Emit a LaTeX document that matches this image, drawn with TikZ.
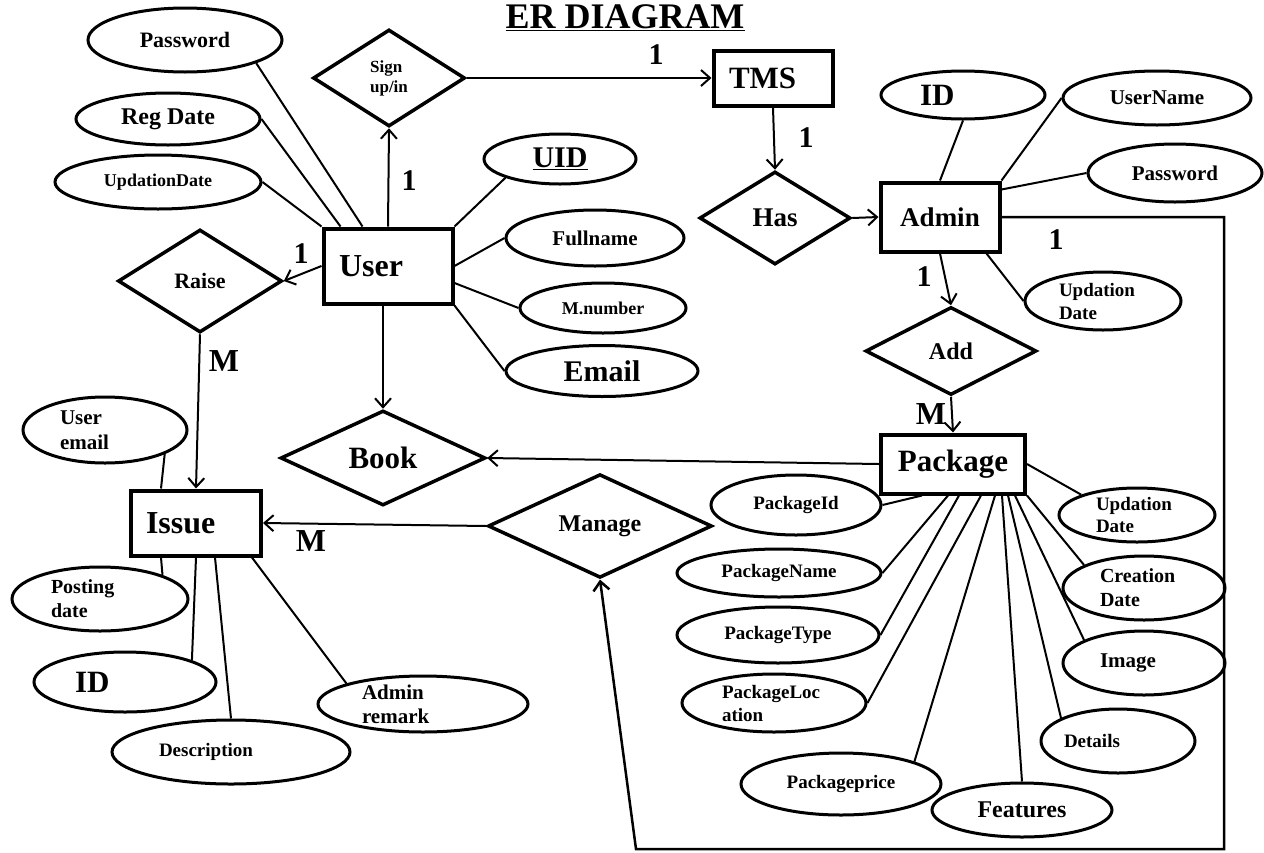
\documentclass[tikz,border=0pt]{standalone}
\usepackage{fontspec}
\setmainfont{Liberation Serif}
\usepackage{tikz}
\usetikzlibrary{shapes.geometric,arrows.meta}
\newcommand{\sz}[2]{\bfseries\fontsize{#1}{#2}\selectfont}
\tikzset{
ent/.style={draw,line width=4pt,inner sep=0pt},
rel/.style={diamond,draw,line width=3.5pt,inner sep=0pt},
attr/.style={ellipse,draw,line width=3pt,inner sep=0pt},
card/.style={font=\sz{30}{32}},
ln/.style={line width=2pt},
arr/.style={line width=2pt,-{Straight Barb[length=9pt,width=16pt]}}
}

\begin{document}
\begin{tikzpicture}[x=1pt,y=-1pt]
\useasboundingbox (0,0) rectangle (1264,852);
\node[font=\sz{36}{40},anchor=base] (title) at (625,28) {\underline{ER DIAGRAM}};

\node[ent,minimum width=129,minimum height=75,text width=98,align=left,font=\sz{32}{34}] (user) at (388,266) {User};
\node[ent,minimum width=119,minimum height=55,text width=88,align=left,font=\sz{31}{33}] (tms) at (773,78) {TMS};
\node[ent,minimum width=119,minimum height=69,font=\sz{27}{29}] (admin) at (940,217) {Admin};
\node[ent,minimum width=144,minimum height=59,font=\sz{31}{33}] (pkg) at (953,464) {Package};
\node[ent,minimum width=130,minimum height=65,text width=100,align=left,font=\sz{32}{34}] (issue) at (196,523) {Issue};

\node[rel,minimum width=152,minimum height=97,align=left,font=\sz{17}{20}] (sign) at (389,78) {Sign\\up/in};
\node[rel,minimum width=164,minimum height=103,font=\sz{22}{24}] (raise) at (200,281) {Raise};
\node[rel,minimum width=151,minimum height=93,font=\sz{27}{29}] (has) at (775,218) {Has};
\node[rel,minimum width=171,minimum height=88,font=\sz{24}{26}] (add) at (951,351) {Add};
\node[rel,minimum width=205,minimum height=95,font=\sz{31}{33}] (book) at (383,458) {Book};
\node[rel,minimum width=224,minimum height=95,font=\sz{24}{26}] (manage) at (600,526) {Manage};

\node[attr,minimum width=194,minimum height=64,font=\sz{22}{24}] (upw) at (185,40) {Password};
\node[attr,minimum width=184,minimum height=52,font=\sz{24}{26}] (ureg) at (168,119) {Reg Date};
\node[attr,minimum width=206,minimum height=54,font=\sz{18}{20}] (uupd) at (158,182) {UpdationDate};
\node[attr,minimum width=152,minimum height=50,font=\sz{30}{32}] (uid) at (560,159) {\underline{UID}};
\node[attr,minimum width=178,minimum height=56,font=\sz{21}{23}] (uname) at (595,238) {Fullname};
\node[attr,minimum width=166,minimum height=50,font=\sz{18}{20}] (umob) at (603,308) {M.number};
\node[attr,minimum width=192,minimum height=51,font=\sz{30}{32}] (umail) at (602,371) {Email};

\node[attr,minimum width=164,minimum height=48,text width=86,align=left,font=\sz{31}{33}] (aid) at (963,95) {ID};
\node[attr,minimum width=188,minimum height=54,font=\sz{21}{23}] (auser) at (1157,98) {UserName};
\node[attr,minimum width=174,minimum height=58,font=\sz{21}{23}] (apw) at (1175,173) {Password};
\node[attr,minimum width=156,minimum height=58,text width=88,align=left,font=\sz{19}{23}] (aupd) at (1103,301) {Updation\\Date};

\node[attr,minimum width=164,minimum height=66,text width=90,align=left,font=\sz{21}{25}] (iem) at (105,430) {User\\email};
\node[attr,minimum width=176,minimum height=64,text width=98,align=left,font=\sz{20}{24}] (ipd) at (100,599) {Posting\\date};
\node[attr,minimum width=182,minimum height=60,text width=100,align=left,font=\sz{31}{33}] (iid) at (125,682) {ID};
\node[attr,minimum width=238,minimum height=64,text width=144,align=left,font=\sz{19}{21}] (idesc) at (231,752) {Description};
\node[attr,minimum width=210,minimum height=56,text width=122,align=left,font=\sz{21}{24}] (irem) at (423,704) {Admin\\remark};

\node[attr,minimum width=170,minimum height=60,font=\sz{19}{21}] (pid) at (796,505) {PackageId};
\node[attr,minimum width=204,minimum height=48,font=\sz{19}{21}] (pname) at (779,573) {PackageName};
\node[attr,minimum width=202,minimum height=56,font=\sz{19}{21}] (ptype) at (778,635) {PackageType};
\node[attr,minimum width=184,minimum height=58,text width=104,align=left,font=\sz{19}{23}] (ploc) at (774,703) {PackageLoc\\ation};
\node[attr,minimum width=200,minimum height=62,font=\sz{19}{21}] (pprice) at (841,784) {Packageprice};
\node[attr,minimum width=180,minimum height=54,font=\sz{24}{26}] (pfeat) at (1022,810) {Features};
\node[attr,minimum width=154,minimum height=64,text width=108,align=left,font=\sz{19}{21}] (pdet) at (1118,741) {Details};
\node[attr,minimum width=162,minimum height=64,text width=88,align=left,font=\sz{21}{23}] (pimg) at (1144,663) {Image};
\node[attr,minimum width=162,minimum height=64,text width=88,align=left,font=\sz{20}{24}] (pcre) at (1144,588) {Creation\\Date};
\node[attr,minimum width=156,minimum height=54,text width=82,align=left,font=\sz{19}{22}] (pupd) at (1137,515) {Updation\\Date};

\node[card] (c1) at (409,181) {1};
\node[card] (c2) at (656,55) {1};
\node[card] (c3) at (806,138) {1};
\node[card] (c4) at (301,254) {1};
\node[card] (c5) at (1056,240) {1};
\node[card] (c6) at (924,277) {1};
\node[card,font=\sz{32}{34}] (m1) at (224,361) {M};
\node[card,font=\sz{32}{34}] (m2) at (311,541) {M};
\node[card,font=\sz{32}{34}] (m3) at (931,414) {M};

\draw[arr] (user.north) -- (sign.south);
\draw[arr] (sign.east) -- (tms.west);
\draw[arr] (tms.south) -- (has.north);
\draw[arr] (has.east) -- (admin.west);
\draw[arr] (admin.south) -- (add.north);
\draw[arr] (add.south) -- (pkg.north);
\draw[arr] (pkg.west) -- (book.east);
\draw[arr] (book.north |- user.south) -- (book.north);
\draw[arr] (user.west) -- (raise.east);
\draw[arr] (raise.south) -- (issue.north);
\draw[arr] (manage.west) -- (issue.east);
\coordinate (rc) at (1224,849);
\coordinate (lc) at (636,849);
\draw[arr,line width=2.5pt] (admin.east) -| (rc) -- (lc) -- (manage.south);

\draw[ln] ([xshift=41]user.north west) -- (upw.-18);
\draw[ln] ([xshift=19]user.north west) -- (ureg.east);
\draw[ln] (user.north west) -- (uupd.east);
\draw[ln] (user.north east) -- (uid.199);
\draw[ln] (user.east) -- (uname.west);
\draw[ln] ([yshift=-17]user.east) -- (umob.west);
\draw[ln] (user.south east) -- (umail.west);

\draw[ln] (admin.north) -- (aid.south);
\draw[ln] (admin.north east) -- (auser.west);
\draw[ln] ([yshift=-9]admin.north east) -- (apw.west);
\draw[ln] ([xshift=-15]admin.south east) -- (aupd.west);

\draw[ln] ([xshift=32]issue.north west) -- (iem.-22);
\draw[ln] ([xshift=32]issue.south west) -- (ipd.21);
\draw[ln] (issue.south) -- (iid.18);
\draw[ln] ([xshift=19]issue.south) -- (idesc.north);
\draw[ln] ([xshift=-11]issue.south east) -- (irem.165);

\draw[ln] ([xshift=43]pkg.south west) -- (pid.east);
\draw[ln] ([xshift=69]pkg.south west) -- (pname.east);
\draw[ln] ([xshift=80]pkg.south west) -- (ptype.east);
\draw[ln] ([xshift=102]pkg.south west) -- (ploc.east);
\draw[ln] ([xshift=116]pkg.south west) -- (pprice.17);
\draw[ln] ([xshift=123]pkg.south west) -- (pfeat.north);
\draw[ln] ([xshift=129]pkg.south west) -- (pdet.158);
\draw[ln] ([xshift=136]pkg.south west) -- (pimg.159);
\draw[ln] (pkg.south east) -- (pcre.159);
\draw[ln] (pkg.east) -- (pupd.160);
\end{tikzpicture}
\end{document}
